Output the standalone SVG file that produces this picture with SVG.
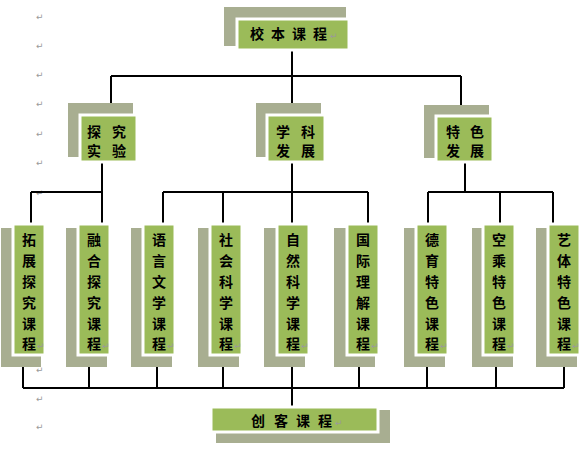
<svg xmlns="http://www.w3.org/2000/svg" width="585" height="449" viewBox="0 0 585 449">
<style>
.sh{fill:#A8AE91}
.bx{fill:#9BBB59;stroke:#fff;stroke-width:3}
.t{font-family:"Noto Sans CJK SC","Noto Sans CJK JP",sans-serif;font-weight:bold;font-size:14px;fill:#000;text-anchor:middle}
.s{text-anchor:start}
.m{font-family:"DejaVu Sans",sans-serif;font-size:9px;fill:#9a9a9a}
.ln{stroke:#000;stroke-width:2;fill:none}
</style>
<rect width="585" height="449" fill="#fff"/>
<g id="marks" class="m">
<text x="36" y="20">↵</text><text x="36" y="49">↵</text><text x="36" y="78">↵</text><text x="36" y="107">↵</text>
<text x="36" y="137">↵</text><text x="36" y="166">↵</text><text x="36" y="196">↵</text>
<text x="36" y="373">↵</text><text x="36" y="402">↵</text><text x="36" y="430">↵</text>
</g>
<g id="connectors" class="ln">
<path d="M292 50V76M111 76H461M111 76V104M292 76V104M461 76V105"/>
<path d="M102 162V192M31 192H102M31 192V224M102 192V224"/>
<path d="M292 162V224M163 192H368M163 192V224M223 192V224M368 192V224"/>
<path d="M465 162V192M428 192H553M428 192V224M500 192V224M553 192V224"/>
<path d="M23 355V388M89 355V388M157 355V388M223 355V388M292 355V407M359 355V388M427 355V388M496 355V388M564 355V388M23 388H564"/>
</g>
<g id="n-top">
<rect class="sh" x="224" y="7" width="122" height="39"/>
<rect class="bx" x="237" y="19" width="112" height="31"/>
<text class="t s" x="250 271 292 313" y="39">校本课程</text><text class="m" x="330" y="39">↵</text>
</g>
<g id="n-tanjiu">
<rect class="sh" x="68" y="103" width="65" height="54"/>
<rect class="bx" x="80" y="115" width="57" height="47"/>
<text class="t" x="94" y="137">探</text><text class="t" x="119" y="137">究</text>
<text class="t" x="94" y="156">实</text><text class="t" x="119" y="156">验</text>
</g>
<g id="n-xueke">
<rect class="sh" x="256" y="103" width="65" height="54"/>
<rect class="bx" x="267" y="115" width="58" height="47"/>
<text class="t" x="283" y="137">学</text><text class="t" x="308" y="137">科</text>
<text class="t" x="283" y="156">发</text><text class="t" x="308" y="156">展</text>
</g>
<g id="n-tese">
<rect class="sh" x="424" y="105" width="65" height="53"/>
<rect class="bx" x="436" y="116" width="57" height="46"/>
<text class="t" x="453" y="137">特</text><text class="t" x="477" y="137">色</text>
<text class="t" x="453" y="156">发</text><text class="t" x="477" y="156">展</text>
</g>
<g id="n-l1"><rect class="sh" x="1" y="228" width="40" height="139"/><rect class="bx" x="13" y="224" width="32" height="131"/>
<text class="t" x="29" y="245">拓</text><text class="t" x="29" y="266">展</text><text class="t" x="29" y="287">探</text><text class="t" x="29" y="308">究</text><text class="t" x="29" y="329">课</text><text class="t" x="29" y="349">程</text><text class="m" x="37" y="349">↵</text></g>
<g id="n-l2"><rect class="sh" x="66" y="228" width="41" height="139"/><rect class="bx" x="78" y="224" width="32" height="131"/>
<text class="t" x="94" y="245">融</text><text class="t" x="94" y="266">合</text><text class="t" x="94" y="287">探</text><text class="t" x="94" y="308">究</text><text class="t" x="94" y="329">课</text><text class="t" x="94" y="349">程</text><text class="m" x="102" y="349">↵</text></g>
<g id="n-l3"><rect class="sh" x="131" y="228" width="41" height="139"/><rect class="bx" x="143" y="224" width="32" height="131"/>
<text class="t" x="159" y="245">语</text><text class="t" x="159" y="266">言</text><text class="t" x="159" y="287">文</text><text class="t" x="159" y="308">学</text><text class="t" x="159" y="329">课</text><text class="t" x="159" y="349">程</text><text class="m" x="167" y="349">↵</text></g>
<g id="n-l4"><rect class="sh" x="198" y="228" width="41" height="139"/><rect class="bx" x="210" y="224" width="32" height="131"/>
<text class="t" x="226" y="245">社</text><text class="t" x="226" y="266">会</text><text class="t" x="226" y="287">科</text><text class="t" x="226" y="308">学</text><text class="t" x="226" y="329">课</text><text class="t" x="226" y="349">程</text><text class="m" x="234" y="349">↵</text></g>
<g id="n-l5"><rect class="sh" x="264" y="228" width="41" height="139"/><rect class="bx" x="277" y="224" width="32" height="131"/>
<text class="t" x="293" y="245">自</text><text class="t" x="293" y="266">然</text><text class="t" x="293" y="287">科</text><text class="t" x="293" y="308">学</text><text class="t" x="293" y="329">课</text><text class="t" x="293" y="349">程</text><text class="m" x="301" y="349">↵</text></g>
<g id="n-l6"><rect class="sh" x="334" y="228" width="41" height="139"/><rect class="bx" x="347" y="224" width="32" height="131"/>
<text class="t" x="363" y="245">国</text><text class="t" x="363" y="266">际</text><text class="t" x="363" y="287">理</text><text class="t" x="363" y="308">解</text><text class="t" x="363" y="329">课</text><text class="t" x="363" y="349">程</text><text class="m" x="371" y="349">↵</text></g>
<g id="n-l7"><rect class="sh" x="404" y="228" width="41" height="139"/><rect class="bx" x="416" y="224" width="32" height="131"/>
<text class="t" x="432" y="245">德</text><text class="t" x="432" y="266">育</text><text class="t" x="432" y="287">特</text><text class="t" x="432" y="308">色</text><text class="t" x="432" y="329">课</text><text class="t" x="432" y="349">程</text><text class="m" x="440" y="349">↵</text></g>
<g id="n-l8"><rect class="sh" x="472" y="228" width="41" height="139"/><rect class="bx" x="483" y="224" width="32" height="131"/>
<text class="t" x="499" y="245">空</text><text class="t" x="499" y="266">乘</text><text class="t" x="499" y="287">特</text><text class="t" x="499" y="308">色</text><text class="t" x="499" y="329">课</text><text class="t" x="499" y="349">程</text><text class="m" x="507" y="349">↵</text></g>
<g id="n-l9"><rect class="sh" x="536" y="228" width="41" height="139"/><rect class="bx" x="548" y="224" width="32" height="131"/>
<text class="t" x="564" y="245">艺</text><text class="t" x="564" y="266">体</text><text class="t" x="564" y="287">特</text><text class="t" x="564" y="308">色</text><text class="t" x="564" y="329">课</text><text class="t" x="564" y="349">程</text><text class="m" x="572" y="349">↵</text></g>
<g id="n-bottom">
<rect class="sh" x="216" y="410" width="174" height="33"/>
<rect class="bx" x="211" y="407" width="167" height="25"/>
<text class="t s" x="251 274 296 318" y="426">创客课程</text><text class="m" x="335" y="426">↵</text>
</g>
</svg>
